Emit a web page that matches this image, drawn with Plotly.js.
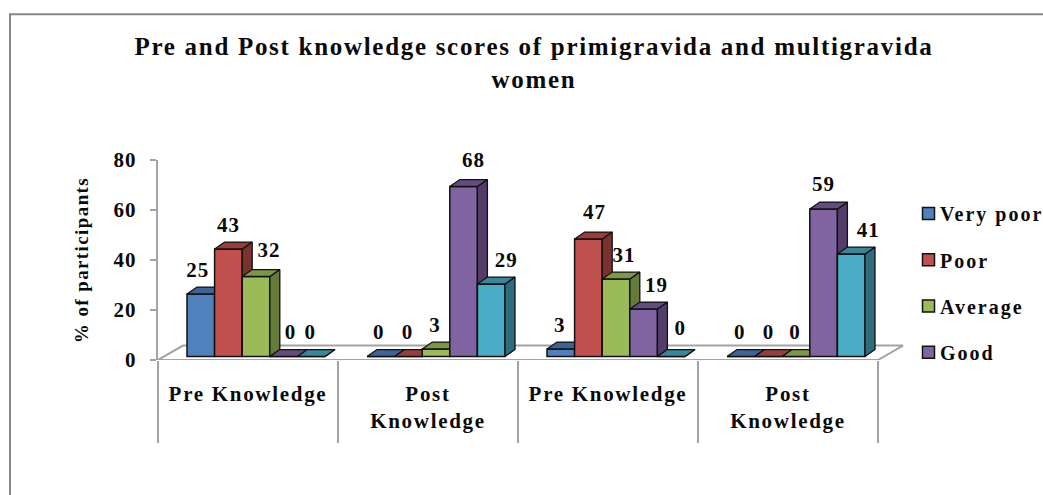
<!DOCTYPE html>
<html>
<head>
<meta charset="utf-8">
<script src="https://cdn.plot.ly/plotly-3.0.1.min.js"></script>
<style>
html,body{margin:0;padding:0;background:#fff;overflow:hidden}
#chart{width:1043px;height:495px}
.gtitle{letter-spacing:1.7px}
.xtick text{letter-spacing:1.7px}
.ytick text{letter-spacing:1.2px}
.g-ytitle text{letter-spacing:1.4px}
.legendtext{letter-spacing:2px;transform:translateX(-8.5px)}
.textpoint text{letter-spacing:1px}
</style>
</head>
<body>
<div id="chart"></div>
<script>
// ---- data ----
const titleText = 'Pre and Post knowledge scores of primigravida and multigravida<br>women';
const yTitle = '% of participants';
const categories = ['Pre Knowledge', 'Post<br>Knowledge', 'Pre Knowledge', 'Post<br>Knowledge'];
const seriesNames = ['Very poor', 'Poor', 'Average', 'Good', 'Excellent'];
const veryPoor = [25, 0, 3, 0];
const poor = [43, 0, 47, 0];
const average = [32, 3, 31, 0];
const good = [0, 68, 19, 59];
const excellent = [0, 29, 0, 41];
const yTicks = [0, 20, 40, 60, 80];

// ---- style and layout constants ----
const allValues = [veryPoor, poor, average, good, excellent];
const fronts = ['#4F81BD', '#C0504D', '#9BBB59', '#8064A2', '#4BACC6'];
const tops = ['#3C6494', '#963E3B', '#7C9747', '#634C80', '#3A879C'];
const sides = ['#2F4F75', '#7A3230', '#667B3A', '#523D69', '#2E6C7D'];
const FONT = 'Liberation Serif';
const INK = '#0a0a0a', GREY = '#a3a3a3', EDGE = '#111';
const W = 1043, H = 495;
const L = 158, R = 914, T = 160, B = 360.5;
const pxX = 180, pxY = (B - T) / 80;
const xRange = [0, (R - L) / pxX], yRange = [0, 80];
const barW = 27.6 / pxX, start = 29 / pxX;
const depthX = 10 / pxX, depthY = 7 / pxY, baseY = 3.5 / pxY;
const floorX = 25 / pxX, floorY = 14.5 / pxY;
// label nudges in pixels, by series then category
const nudgeX = [[-3,-2,-1,-1],[0,-1,6,0],[13,-1,8,-1],[7,10,13,0],[-1,15,9,17]];
const nudgeY = [[22,23,22,23],[22,23,25,23],[25,22,22,23],[23,25,22,23],[23,22,27,22]];

const traces = [];
// floor and base line, in the main subplot
traces.push({
  x: [0, floorX, categories.length + floorX, categories.length, 0],
  y: [0, floorY, floorY, 0, 0],
  mode: 'lines', line: {color: GREY, width: 2}, cliponaxis: false,
  showlegend: false, hoverinfo: 'skip', xaxis: 'x', yaxis: 'y'
});

function poly(list) {
  const xs = [], ys = [];
  list.forEach(p => { p.forEach(q => { xs.push(q[0]); ys.push(q[1]); }); xs.push(null); ys.push(null); });
  return {x: xs, y: ys};
}

allValues.forEach((vals, s) => {
  const ax = s + 2;
  const xa = 'x' + ax, ya = 'y' + ax;
  traces.push({
    type: 'bar', name: '<b>' + seriesNames[s] + '</b>', legendgroup: seriesNames[s],
    showlegend: s < 4,
    x: categories.map((c, i) => i), y: vals, base: vals.map(() => baseY),
    width: barW, offset: start + s * barW,
    marker: {color: fronts[s], line: {color: EDGE, width: 1.5}},
    xaxis: xa, yaxis: ya, hoverinfo: 'y'
  });
  const sideP = [], topP = [];
  vals.forEach((v, c) => {
    const xl = c + start + s * barW, xr = xl + barW, yt = v + baseY;
    sideP.push([[xr, baseY], [xr + depthX, baseY + depthY], [xr + depthX, yt + depthY], [xr, yt], [xr, baseY]]);
    topP.push([[xl, yt], [xr, yt], [xr + depthX, yt + depthY], [xl + depthX, yt + depthY], [xl, yt]]);
  });
  [[sideP, sides[s]], [topP, tops[s]]].forEach(([p, col]) => {
    const g = poly(p);
    traces.push({
      x: g.x, y: g.y, mode: 'lines', fill: 'toself', fillcolor: col,
      line: {color: EDGE, width: 1.3}, showlegend: false, hoverinfo: 'skip',
      xaxis: xa, yaxis: ya, cliponaxis: false
    });
  });
});

// value labels, above everything
const lx = [], ly = [], lt = [];
allValues.forEach((vals, s) => vals.forEach((v, c) => {
  lx.push(c + start + (s + 0.5) * barW + nudgeX[s][c] / pxX);
  ly.push(v + baseY + nudgeY[s][c] / pxY);
  lt.push('<b>' + v + '</b>');
}));
traces.push({
  x: lx, y: ly, text: lt, mode: 'text', textposition: 'middle center',
  textfont: {family: FONT, size: 21, color: INK}, cliponaxis: false,
  showlegend: false, hoverinfo: 'skip', xaxis: 'x6', yaxis: 'y6'
});

const layout = {
  width: W, height: H,
  margin: {l: L, r: W - R, t: T, b: H - B, autoexpand: false},
  paper_bgcolor: '#fff', plot_bgcolor: 'rgba(0,0,0,0)',
  font: {family: FONT, color: INK},
  title: {text: '<b>' + titleText + '</b>', font: {family: FONT, size: 25, color: INK},
          x: 534 / W, xanchor: 'center', y: 1 - 55 / H, yanchor: 'top'},
  showlegend: true,
  legend: {x: (908.5 - L) / (R - L), xanchor: 'left', y: (B - 194) / (B - T), yanchor: 'top',
           font: {family: FONT, size: 20, color: INK}, bgcolor: 'rgba(0,0,0,0)',
           tracegroupgap: 17.3, traceorder: 'grouped', itemclick: false, itemdoubleclick: false},
  xaxis: {range: xRange, tickmode: 'array', tickvals: categories.map((c, i) => i + 0.5),
          ticktext: categories.map(c => '<b>' + c + '</b>'), ticks: '', showline: false,
          showgrid: false, zeroline: false, tickangle: 0,
          tickfont: {family: FONT, size: 21, color: INK}, ticklabelstandoff: 19,
          minor: {tickmode: 'array', tickvals: categories.map((c, i) => i).concat([categories.length]),
                  ticks: 'outside', ticklen: 82, tickwidth: 2, tickcolor: GREY, showgrid: false}},
  yaxis: {range: yRange, tickmode: 'array', tickvals: yTicks, ticktext: yTicks.map(v => '<b>' + v + '</b>'),
          ticks: 'outside', ticklen: 6, tickwidth: 2, tickcolor: GREY,
          showline: true, linecolor: GREY, linewidth: 2, showgrid: false, zeroline: false,
          tickfont: {family: FONT, size: 21, color: INK}, ticklabelstandoff: 9,
          title: {text: '<b>' + yTitle + '</b>', font: {family: FONT, size: 19, color: INK}, standoff: 20}},
  shapes: [{type: 'rect', xref: 'paper', yref: 'paper',
            x0: (10 - L) / (R - L), x1: (W + 20 - L) / (R - L),
            y0: (B - (H + 20)) / (B - T), y1: (B - 14) / (B - T),
            line: {color: '#868686', width: 2}, layer: 'below'}]
};
for (let n = 2; n <= 6; n++) {
  layout['xaxis' + n] = {overlaying: 'x', anchor: 'y' + n, range: xRange, visible: false, fixedrange: true};
  layout['yaxis' + n] = {overlaying: 'y', anchor: 'x' + n, range: yRange, visible: false, fixedrange: true};
}
Plotly.newPlot('chart', traces, layout, {displayModeBar: false, staticPlot: true});
</script>
</body>
</html>
